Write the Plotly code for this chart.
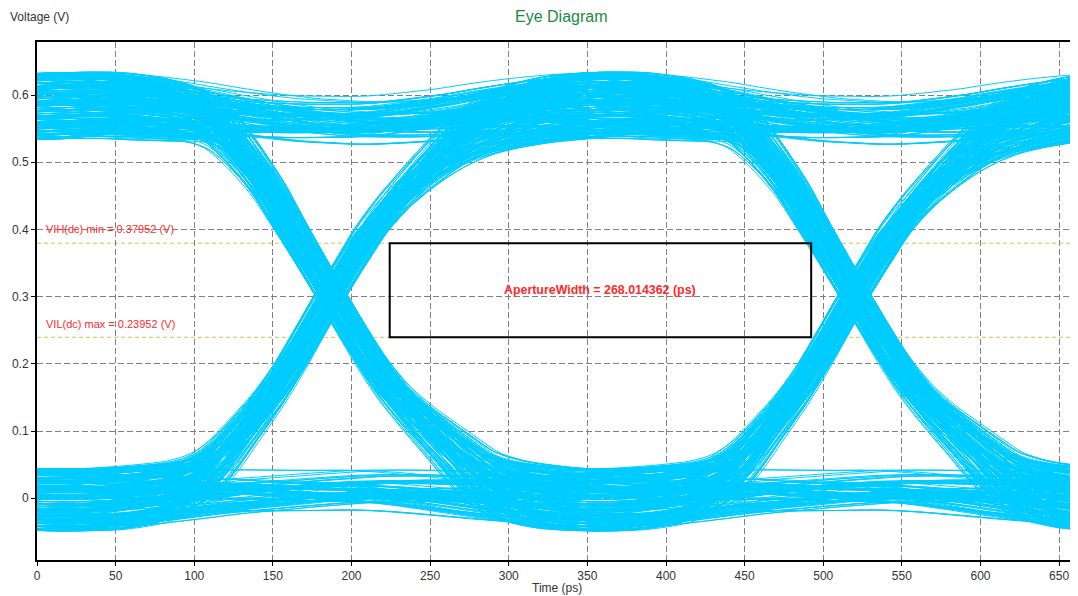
import plotly.graph_objects as go

# ---------------- text / axes ----------------
TITLE = "Eye Diagram"
X_TITLE = "Time (ps)"
Y_TITLE = "Voltage (V)"
X_TICKS = [0, 50, 100, 150, 200, 250, 300, 350, 400, 450, 500, 550, 600, 650]
Y_TICKS = [0, 0.1, 0.2, 0.3, 0.4, 0.5, 0.6]
Y_TICK_LABELS = ["0", "0.1", "0.2", "0.3", "0.4", "0.5", "0.6"]
X_RANGE = [0, 662]
Y_RANGE = [-0.092, 0.679]

# ---------------- measurements ----------------
VIH = 0.37952
VIL = 0.23952
VIH_LABEL = "VIH(dc) min = 0.37952 (V)"
VIL_LABEL = "VIL(dc) max = 0.23952 (V)"
APERTURE_START = 224.3
APERTURE_WIDTH = 268.014362
APERTURE_LABEL = "ApertureWidth = 268.014362 (ps)"

# ---------------- eye data ----------------
UI = 333.0
CROSSINGS = [-146.0, 187.0, 520.0]       # bit-boundary crossings (ps)

# time relative to a crossing (ps); ends are the unit-interval centres
REL = [-166.5, -140, -115, -97, -83, -70, -56, -40, -26, -13, 0,
       13, 26, 40, 56, 70, 83, 97, 115, 140, 166.5]
# voltage shapes through one crossing (V)
FALL = [0.584, 0.584, 0.579, 0.573, 0.565, 0.546, 0.510, 0.460, 0.405, 0.354, 0.303,
        0.252, 0.203, 0.158, 0.118, 0.087, 0.058, 0.030, 0.012, 0.001, -0.003]
RISE = [-0.003, -0.001, 0.006, 0.016, 0.032, 0.060, 0.100, 0.148, 0.198, 0.250, 0.303,
        0.352, 0.400, 0.440, 0.478, 0.508, 0.532, 0.551, 0.566, 0.578, 0.584]
STAY_HIGH = [0.584, 0.585, 0.583, 0.580, 0.577, 0.573, 0.569, 0.565, 0.562, 0.560, 0.559,
             0.558, 0.558, 0.560, 0.563, 0.566, 0.570, 0.574, 0.578, 0.582, 0.584]
STAY_LOW = [-0.003, -0.004, -0.002, 0.000, 0.002, 0.004, 0.006, 0.007, 0.008, 0.009, 0.010,
            0.011, 0.011, 0.010, 0.008, 0.006, 0.004, 0.002, 0.000, -0.002, -0.003]
# how much of the previous bit's level offset remains at each REL point
W_EDGE_L = [1.0, 1.0, 0.95, 0.85, 0.72, 0.55, 0.38, 0.22, 0.10, 0.03, 0.0,
            0.0, 0.0, 0.0, 0.0, 0.0, 0.0, 0.0, 0.0, 0.0, 0.0]
W_STAY_L = [1.0, 0.92, 0.84, 0.78, 0.74, 0.70, 0.66, 0.61, 0.57, 0.53, 0.50,
            0.47, 0.43, 0.39, 0.34, 0.30, 0.26, 0.22, 0.16, 0.08, 0.0]

BITS = ("0110100111010001101011100100110110001011110100101100111000110101"
        "0011011100101000110110101100101110011010001110100101101100011010"
        "011101011000101101001110010110100011")
LEVEL_OFFSETS = [0.35, -0.62, 0.88, -0.15, 0.52, -0.94, 0.07, 0.71, -0.38, -0.81,
                 0.24, 0.96, -0.49, 0.13, -0.27, 0.63, -0.72, 0.41, -0.05, 0.84,
                 -0.58, 0.29, -0.91, 0.55, 0.02, -0.33, 0.77, -0.66, 0.18, 0.92,
                 -0.44, -0.11, 0.60, -0.85, 0.37, -0.21, 0.69, -0.53, 0.09, 0.81,
                 -0.97, 0.46, -0.31, 0.15, -0.75, 0.58, 0.99]
HIGH_SPREAD = 0.050
LOW_SPREAD = 0.047
JITTER = [3.5, -6.2, 8.8, -1.4, 5.1, -9.5, 0.7, 7.2, -3.9, -8.0, 2.4, 9.7, -4.8, 1.3,
          -2.6, 6.4, -7.1, 4.0, -0.6, 10.2, -5.7, 2.9, -10.4, 5.6, 0.3, -3.3, 7.7,
          -6.6, 1.9, 9.1, -4.4]
# the captured record repeats the pattern; each repetition starts at another
# position of the offset / jitter records
PASS_SHIFTS = [0, 17, 29, 8]

# ---------------- build the folded traces ----------------
bits = [int(ch) for ch in BITS]
templates = {(1, 0): FALL, (0, 1): RISE, (1, 1): STAY_HIGH, (0, 0): STAY_LOW}
W_EDGE_R = W_EDGE_L[::-1]
W_STAY_R = W_STAY_L[::-1]


def level_offset(i, shift):
    spread = HIGH_SPREAD if bits[i] else LOW_SPREAD
    return LEVEL_OFFSETS[(i + shift) % len(LEVEL_OFFSETS)] * spread


def window(cross, a, b, oa, ob, jit, rel_min, skip_first):
    tpl = templates[(a, b)]
    wl, wr = (W_EDGE_L, W_EDGE_R) if a != b else (W_STAY_L, W_STAY_R)
    ts, vs = [], []
    for n, (r, v, l, rr) in enumerate(zip(REL, tpl, wl, wr)):
        if r < rel_min or (skip_first and n == 0):
            continue
        t = cross + r if abs(r) >= UI / 2 else cross + r + jit
        ts.append(t)
        vs.append(v + oa * l + ob * rr)
    return ts, vs


xs, ys = [], []
for s in PASS_SHIFTS:
    for k in range(len(bits) - 2):
        a, b, c = bits[k], bits[k + 1], bits[k + 2]
        oa, ob, oc = level_offset(k, s), level_offset(k + 1, s), level_offset(k + 2, s)
        j1 = JITTER[(k + s) % len(JITTER)]
        j2 = JITTER[(k + 1 + s) % len(JITTER)]
        t0, v0 = window(CROSSINGS[0], a, a, oa, oa, 0.0, 90, False)
        t1, v1 = window(CROSSINGS[1], a, b, oa, ob, j1, -999, True)
        t2, v2 = window(CROSSINGS[2], b, c, ob, oc, j2, -999, True)
        xs += t0 + t1 + t2 + [None]
        ys += v0 + v1 + v2 + [None]

fig = go.Figure()
fig.add_trace(go.Scatter(
    x=xs, y=ys, mode="lines",
    line=dict(color="rgb(0,204,255)", width=1.0, shape="spline", smoothing=0.8),
    hoverinfo="skip", showlegend=False,
))

FONT = "Liberation Sans, Arial, sans-serif"
RED = "#ff2a2a"
YELLOW = "#c8c84c"

# threshold lines
for lvl in (VIH, VIL):
    fig.add_shape(type="line", xref="paper", x0=0, x1=1, yref="y", y0=lvl, y1=lvl,
                  line=dict(color=YELLOW, width=1, dash="4px,3px"), layer="between")

# aperture rectangle
fig.add_shape(type="rect", xref="x", yref="y",
              x0=APERTURE_START, x1=APERTURE_START + APERTURE_WIDTH, y0=VIL, y1=VIH,
              line=dict(color="black", width=2), layer="above")

# (the page body has an 8px margin, so the figure is 8px smaller than the window)
annotations = [
    dict(text=TITLE, xref="paper", yref="paper", x=0.503, y=1.05, showarrow=False,
         xanchor="center", yanchor="middle", font=dict(family=FONT, size=16, color="#1a8a40")),
    dict(text=Y_TITLE, xref="paper", yref="paper", x=-0.028, y=1.048, showarrow=False,
         xanchor="left", yanchor="middle", font=dict(family=FONT, size=12, color="#333333")),
    dict(text=X_TITLE, xref="paper", yref="paper", x=0.4995, y=-0.054, showarrow=False,
         xanchor="center", yanchor="middle", font=dict(family=FONT, size=12, color="#333333")),
    dict(text=VIH_LABEL, xref="x", yref="y", x=4.4, y=0.4, showarrow=False,
         xanchor="left", yanchor="middle", font=dict(family=FONT, size=11, color=RED)),
    dict(text=VIL_LABEL, xref="x", yref="y", x=4.4, y=0.259, showarrow=False,
         xanchor="left", yanchor="middle", font=dict(family=FONT, size=11, color=RED)),
    dict(text="<b>" + APERTURE_LABEL + "</b>", xref="x", yref="y",
         x=APERTURE_START + APERTURE_WIDTH / 2, y=0.31, showarrow=False,
         xanchor="center", yanchor="middle", font=dict(family=FONT, size=12.4, color=RED)),
]

fig.update_layout(
    width=1070, height=588,
    margin=dict(l=29, r=0, t=34, b=36, autoexpand=False),
    paper_bgcolor="white", plot_bgcolor="white",
    font=dict(family=FONT, size=12, color="#333333"),
    annotations=annotations,
    showlegend=False,
)
fig.update_xaxes(
    range=X_RANGE, tickvals=X_TICKS, ticktext=[str(v) for v in X_TICKS],
    showgrid=True, gridcolor="#808080", gridwidth=1, griddash="6px,3px",
    showline=True, linecolor="black", linewidth=2, mirror=True,
    ticks="outside", ticklen=4, tickcolor="black", zeroline=False, automargin=False,
    tickfont=dict(family=FONT, size=12, color="#333333"),
)
fig.update_yaxes(
    range=Y_RANGE, tickvals=Y_TICKS, ticktext=Y_TICK_LABELS,
    showgrid=True, gridcolor="#808080", gridwidth=1, griddash="6px,3px",
    showline=True, linecolor="black", linewidth=2,
    ticks="outside", ticklen=4, tickcolor="black", zeroline=False, automargin=False,
    tickfont=dict(family=FONT, size=12, color="#333333"),
)

fig.write_html("out.html")
